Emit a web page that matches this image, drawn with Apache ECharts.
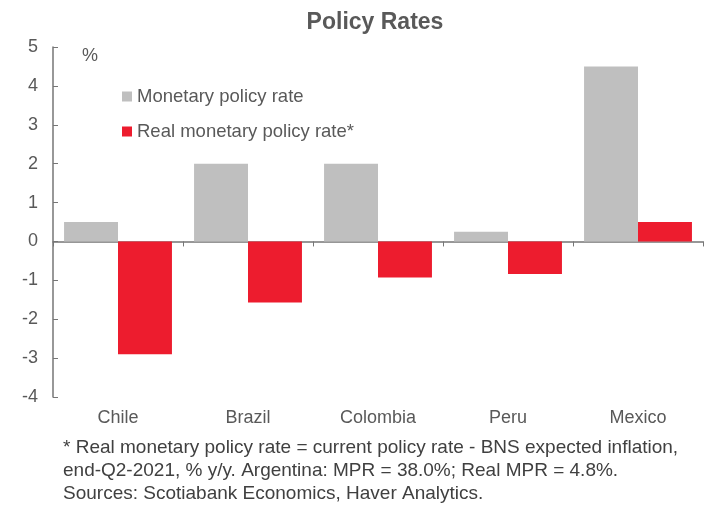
<!DOCTYPE html>
<html>
<head>
<meta charset="utf-8">
<script src="https://cdn.jsdelivr.net/npm/echarts@6/dist/echarts.min.js"></script>
<style>
  html, body { margin: 0; padding: 0; background: #fff; }
  #chart { width: 705px; height: 508px; }
</style>
</head>
<body>
<div id="chart"></div>
<script>
// 数据
var countries = ["Chile", "Brazil", "Colombia", "Peru", "Mexico"];
var policyRate = [0.5, 2.0, 2.0, 0.25, 4.5];
var realPolicyRate = [-2.9, -1.57, -0.93, -0.84, 0.5];
var seriesNames = ["Monetary policy rate", "Real monetary policy rate*"];
var footnote = [
  "* Real monetary policy rate = current policy rate - BNS expected inflation,",
  "end-Q2-2021, % y/y. Argentina: MPR = 38.0%; Real MPR = 4.8%.",
  "Sources: Scotiabank Economics, Haver Analytics."
];

var chart = echarts.init(document.getElementById("chart"));
var font = "Liberation Sans, Arial, sans-serif";

var option = {
  animation: false,
  textStyle: { fontFamily: font },
  title: {
    text: "Policy Rates",
    left: 370,
    textAlign: "center",
    top: 6,
    textStyle: { fontSize: 23, fontWeight: "bold", color: "#595959", fontFamily: font }
  },
  legend: {
    orient: "vertical",
    left: 117,
    top: 82,
    itemWidth: 10,
    itemHeight: 10,
    itemGap: 16,
    icon: "rect",
    textStyle: { fontSize: 18.5, color: "#595959", padding: [0, 0, 0, 0] },
    data: seriesNames
  },
  grid: { left: 53, right: 2, top: 47, bottom: 111, containLabel: false, outerBoundsMode: "none" },
  xAxis: [
    {
      // 零线 + 刻度
      type: "category",
      data: countries,
      axisLine: { onZero: true, lineStyle: { color: "#767676", width: 1.5 } },
      axisTick: { show: true, length: 5, lineStyle: { color: "#767676" } },
      axisLabel: { show: false }
    },
    {
      // 底部类目标签
      type: "category",
      data: countries,
      position: "bottom",
      axisLine: { show: false, onZero: false },
      axisTick: { show: false },
      axisLabel: { color: "#595959", fontSize: 18, fontFamily: font, margin: 12 }
    }
  ],
  yAxis: {
    type: "value",
    min: -4,
    max: 5,
    interval: 1,
    splitLine: { show: false },
    axisLine: { show: true, lineStyle: { color: "#767676", width: 1.5 } },
    axisTick: { show: true, inside: true, length: 5, lineStyle: { color: "#767676" } },
    axisLabel: { color: "#595959", fontSize: 18, margin: 15, fontFamily: font }
  },
  series: [
    {
      name: seriesNames[0],
      type: "bar",
      data: policyRate,
      barGap: "0%",
      barCategoryGap: "17%",
      itemStyle: { color: "#BFBFBF" }
    },
    {
      name: seriesNames[1],
      type: "bar",
      data: realPolicyRate,
      barGap: "0%",
      barCategoryGap: "17%",
      itemStyle: { color: "#ED1C2E" }
    }
  ],
  graphic: [
    {
      type: "text",
      left: 82,
      top: 47,
      style: { text: "%", fontSize: 18, fill: "#595959", fontFamily: font }
    },
    {
      type: "text",
      left: 63,
      top: 436,
      style: {
        text: footnote.join("\n"),
        fontSize: 19,
        lineHeight: 23,
        fill: "#404040",
        fontFamily: font
      }
    }
  ]
};

chart.setOption(option);
</script>
</body>
</html>
